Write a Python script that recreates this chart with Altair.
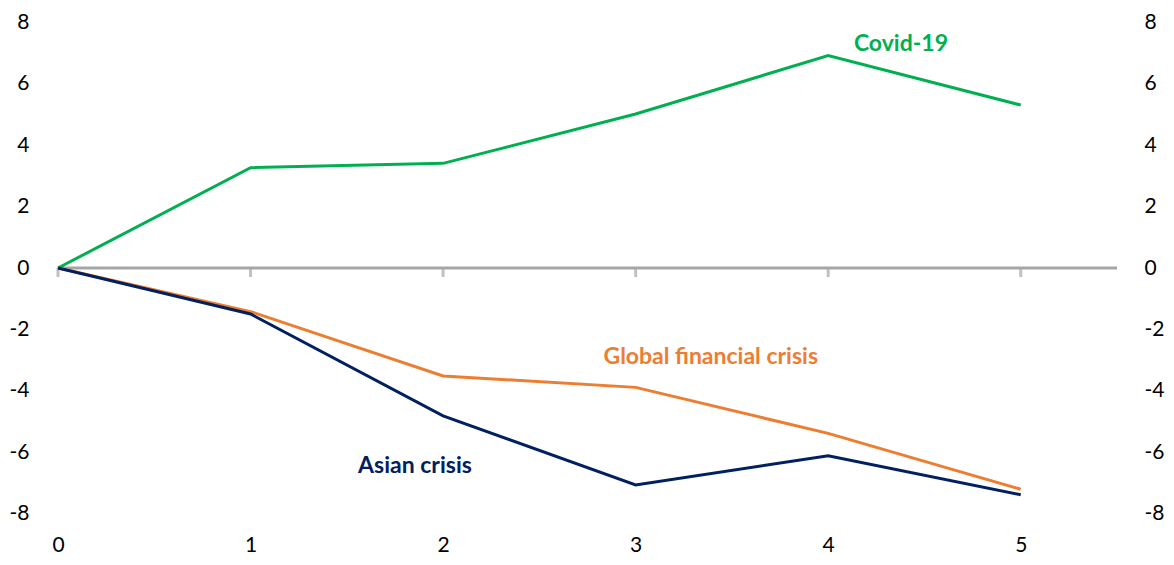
import altair as alt
import pandas as pd

years = [0, 1, 2, 3, 4, 5]
covid = [0, 3.27, 3.41, 5.02, 6.92, 5.31]
gfc = [0, -1.42, -3.52, -3.89, -5.39, -7.21]
asian = [0, -1.50, -4.82, -7.07, -6.12, -7.39]
series_names = ["Covid-19", "Global financial crisis", "Asian crisis"]
series_colors = ["#00B050", "#ED7D31", "#002060"]
y_ticks = [-8, -6, -4, -2, 0, 2, 4, 6, 8]

label_x = [4.378, 3.39, 1.854]
label_y = [7.29, -2.89, -6.45]

rows = []
for name, vals in zip(series_names, [covid, gfc, asian]):
    for x, v in zip(years, vals):
        rows.append({"x": x, "v": v, "series": name})
df = pd.DataFrame(rows)
ticks_df = pd.DataFrame({"x": years})
lab_df = pd.DataFrame({"x": label_x, "v": label_y, "series": series_names})

FONT = "Lato"
LABEL_EXPR = "'' + datum.value"
xscale = alt.Scale(domain=[0, 5.5], nice=False)
yscale = alt.Scale(domain=[-8, 8], nice=False)
cscale = alt.Scale(domain=series_names, range=series_colors)

x_axis = alt.Axis(values=years, domain=False, ticks=False, grid=False,
                  labelFont=FONT, labelFontSize=21, labelColor="#000000",
                  labelPadding=21, labelFlush=False, title=None,
                  labelExpr=LABEL_EXPR)

zero = alt.Chart(pd.DataFrame({"a": [0]})).mark_rule(
    color="#A6A6A6", strokeWidth=3
).encode(
    x=alt.datum(0, scale=xscale, axis=x_axis),
    x2=alt.datum(5.5),
    y=alt.datum(0, scale=yscale,
                axis=alt.Axis(values=y_ticks, orient="left", domain=False, ticks=False,
                              grid=False, labelFont=FONT, labelFontSize=21,
                              labelColor="#000000", labelPadding=29, title=None,
                              labelFlush=False, labelExpr=LABEL_EXPR)),
)

tickmarks = alt.Chart(ticks_df).mark_tick(
    orient="vertical", color="#A6A6A6", size=9, thickness=3, yOffset=4.5
).encode(
    x=alt.X("x:Q", scale=xscale),
    y=alt.datum(0, scale=yscale),
)

lines = alt.Chart(df).mark_line(strokeWidth=3).encode(
    x=alt.X("x:Q", scale=xscale),
    y=alt.Y("v:Q", scale=yscale),
    color=alt.Color("series:N", scale=cscale, legend=None),
)

labels = alt.Chart(lab_df).mark_text(
    font=FONT, fontSize=23, fontWeight="bold", align="center", baseline="middle"
).encode(
    x=alt.X("x:Q", scale=xscale),
    y=alt.Y("v:Q", scale=yscale),
    color=alt.Color("series:N", scale=cscale, legend=None),
    text="series:N",
)

left = alt.layer(zero, tickmarks, lines, labels)

right = alt.Chart(pd.DataFrame({"a": [0]})).mark_point(opacity=0).encode(
    x=alt.datum(0, scale=xscale),
    y=alt.datum(0, scale=yscale,
                axis=alt.Axis(values=y_ticks, orient="right", domain=False, ticks=False,
                              grid=False, labelFont=FONT, labelFontSize=21,
                              labelColor="#000000", labelPadding=27, title=None,
                              labelFlush=False, labelExpr=LABEL_EXPR)),
)

chart = alt.layer(left, right).resolve_scale(y="independent").properties(
    width=1059, height=491,
    autosize=alt.AutoSizeParams(type="none"),
    padding={"left": 50, "top": 14.5, "right": 49, "bottom": 43.5},
).configure_view(stroke=None)

chart.save("out.html", embed_options={"renderer": "svg", "actions": False})
